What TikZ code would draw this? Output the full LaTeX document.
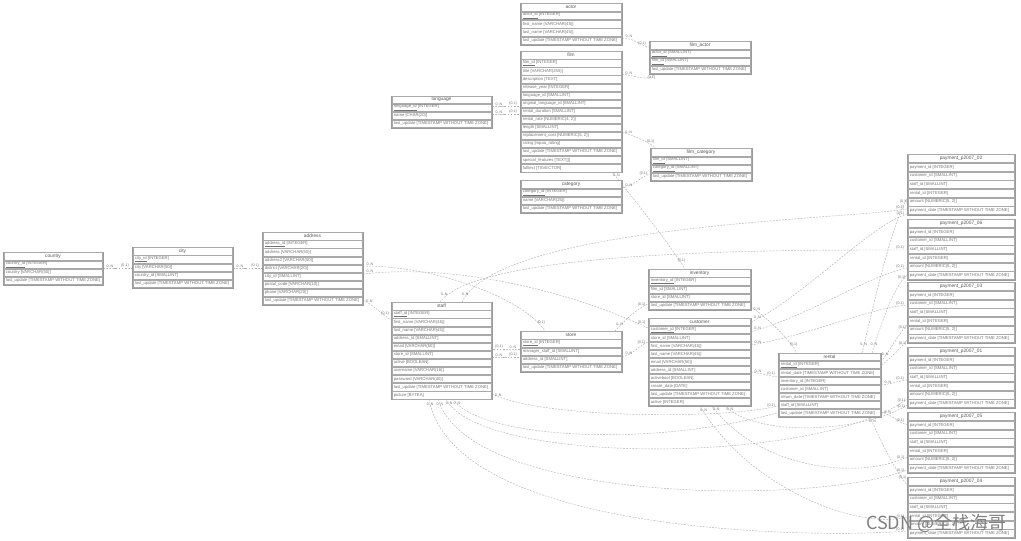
\documentclass[tikz,border=0pt]{standalone}
\usepackage{fontspec}
\setmainfont{Liberation Sans}
\newfontfamily\cjk{Noto Sans CJK SC}
\usetikzlibrary{calc}
\pgfdeclarelayer{back}
\pgfdeclarelayer{edges}
\pgfsetlayers{back,edges,main}
\definecolor{boxc}{HTML}{9A9A9A}
\definecolor{txtc}{HTML}{737373}
\definecolor{relc}{HTML}{B0B0B0}
\tikzset{
  erbox/.style={draw=boxc, line width=0.45pt, inner sep=0pt, fill=white},
  ercell/.style={draw=boxc!85, line width=0.3pt, inner sep=0pt},
  ertxt/.style={font=\fontsize{4.2}{4.6}\selectfont, text=txtc, inner sep=0pt, anchor=west},
  ertitle/.style={font=\fontsize{4.8}{5}\selectfont, text=txtc!75!black, inner sep=0pt},
  rel/.style={draw=relc, line width=0.45pt, dash pattern=on 1.8pt off 1.3pt},
  lab/.style={font=\fontsize{3.6}{4}\selectfont, text=txtc, inner sep=0.4pt, anchor=south},
}
\newcommand\pk[1]{\underline{#1}}
% #1 id #2 x #3 y #4 w #5 h #6 nrows #7 title #8 rows
\newcommand\ertable[8]{%
  \pgfmathsetmacro\ertH{(#6+1)*#5}%
  \node[erbox, minimum width=#4, minimum height=\ertH, anchor=north west] (#1) at (#2,#3) {};
  \node[ercell, minimum width=#4-2.4, minimum height=#5-0.8] (#1-r0) at ($(#2,#3)+(#4/2,#5/2)$) {};
  \node[ertitle] (#1-tt) at (#1-r0) {#7};
  \foreach \ertrow [count=\i] in {#8} {
    \node[ercell, minimum width=#4-2.4, minimum height=#5-0.8] (#1-r\i) at ($(#2,#3)+(#4/2,{(\i+0.5)*#5})$) {};
    \node[ertxt] (#1-t\i) at ($(#1-r\i.west)+(1.6,0)$) {\ertrow};
  }
}
\newcommand\paytable[3]{%
  \ertable{#1}{907}{#2}{108}{8.7}{6}{#3}{{payment\_id [INTEGER]},{customer\_id [SMALLINT]},{staff\_id [SMALLINT]},{rental\_id [INTEGER]},{amount [NUMERIC(5, 2)]},{payment\_date [TIMESTAMP WITHOUT TIME ZONE]}}
}
% #1 id #2 start #3 c1 #4 c2 #5 end
\newcommand\rel[5]{%
  \coordinate (#1s) at #2;
  \coordinate (#1e) at #5;
  \draw[rel] (#1s) .. controls #3 and #4 .. (#1e);
  \node[lab] (#1a) at ($(#1s)!7pt!#3$) {0..N};
  \node[lab] (#1b) at ($(#1e)!7pt!#4$) {\{0,1\}};
}
\newcommand\TS{[TIMESTAMP WITHOUT TIME ZONE]}
\begin{document}
\begin{tikzpicture}[x=1pt,y=-1pt]
\begin{pgfonlayer}{back}
\useasboundingbox[fill=white] (0,0) rectangle (1021,541);
\end{pgfonlayer}

% ---------------- tables
\ertable{actor}{520}{3}{102}{8.4}{4}{actor}{{\pk{actor\_id} [INTEGER]},{first\_name [VARCHAR(45)]},{last\_name [VARCHAR(45)]},{last\_update \TS}}
\ertable{filmactor}{649}{41}{102}{8.25}{3}{film\_actor}{{\pk{actor\_id} [SMALLINT]},{\pk{film\_id} [SMALLINT]},{last\_update \TS}}
\ertable{film}{520}{51}{102}{8.07}{14}{film}{{\pk{film\_id} [INTEGER]},{title [VARCHAR(255)]},{description [TEXT]},{release\_year [INTEGER]},{language\_id [SMALLINT]},{original\_language\_id [SMALLINT]},{rental\_duration [SMALLINT]},{rental\_rate [NUMERIC(4, 2)]},{length [SMALLINT]},{replacement\_cost [NUMERIC(5, 2)]},{rating [mpaa\_rating]},{last\_update \TS},{special\_features [TEXT[]]},{fulltext [TSVECTOR]}}
\ertable{language}{391}{95.5}{101}{8}{3}{language}{{\pk{language\_id} [INTEGER]},{name [CHAR(20)]},{last\_update \TS}}
\ertable{filmcat}{650}{148}{102}{8.25}{3}{film\_category}{{\pk{film\_id} [SMALLINT]},{\pk{category\_id} [SMALLINT]},{last\_update \TS}}
\ertable{category}{520}{180}{102}{8.25}{3}{category}{{\pk{category\_id} [INTEGER]},{name [VARCHAR(25)]},{last\_update \TS}}
\ertable{country}{3}{252}{100}{8.25}{3}{country}{{\pk{country\_id} [INTEGER]},{country [VARCHAR(50)]},{last\_update \TS}}
\ertable{city}{132}{247}{101}{8.2}{4}{city}{{\pk{city\_id} [INTEGER]},{city [VARCHAR(50)]},{country\_id [SMALLINT]},{last\_update \TS}}
\ertable{address}{262}{232}{101}{8.1}{8}{address}{{\pk{address\_id} [INTEGER]},{address [VARCHAR(50)]},{address2 [VARCHAR(50)]},{district [VARCHAR(20)]},{city\_id [SMALLINT]},{postal\_code [VARCHAR(10)]},{phone [VARCHAR(20)]},{last\_update \TS}}
\ertable{staff}{391}{302}{101}{8.1}{11}{staff}{{\pk{staff\_id} [INTEGER]},{first\_name [VARCHAR(45)]},{last\_name [VARCHAR(45)]},{address\_id [SMALLINT]},{email [VARCHAR(50)]},{store\_id [SMALLINT]},{active [BOOLEAN]},{username [VARCHAR(16)]},{password [VARCHAR(40)]},{last\_update \TS},{picture [BYTEA]}}
\ertable{store}{520}{331}{102}{8.2}{4}{store}{{\pk{store\_id} [INTEGER]},{manager\_staff\_id [SMALLINT]},{address\_id [SMALLINT]},{last\_update \TS}}
\ertable{inventory}{648}{269}{103}{8.2}{4}{inventory}{{\pk{inventory\_id} [INTEGER]},{film\_id [SMALLINT]},{store\_id [SMALLINT]},{last\_update \TS}}
\ertable{customer}{648}{318}{103}{8}{10}{customer}{{\pk{customer\_id} [INTEGER]},{store\_id [SMALLINT]},{first\_name [VARCHAR(45)]},{last\_name [VARCHAR(45)]},{email [VARCHAR(50)]},{address\_id [SMALLINT]},{activebool [BOOLEAN]},{create\_date [DATE]},{last\_update \TS},{active [INTEGER]}}
\ertable{rental}{778}{353}{103}{8}{7}{rental}{{\pk{rental\_id} [INTEGER]},{rental\_date \TS},{inventory\_id [INTEGER]},{customer\_id [SMALLINT]},{return\_date \TS},{staff\_id [SMALLINT]},{last\_update \TS}}
\paytable{p02}{154}{payment\_p2007\_02}
\paytable{p06}{219}{payment\_p2007\_06}
\paytable{p03}{282}{payment\_p2007\_03}
\paytable{p01}{347}{payment\_p2007\_01}
\paytable{p05}{412}{payment\_p2007\_05}
\paytable{p04}{477}{payment\_p2007\_04}

% ---------------- relations (on a layer under the tables)
\begin{pgfonlayer}{edges}
\rel{e1}{($(actor.north west)+(102,35)$)}{(635,38)}{(640,46)}{($(filmactor.north west)+(0,6)$)}
\rel{e2}{($(film.north west)+(102,23)$)}{(636,76)}{(650,82)}{($(filmactor.north west)+(6,33)$)}
\rel{e3}{($(language.north west)+(101,10.5)$)}{(503,106)}{(510,106)}{($(film.north west)+(0,55)$)}
\rel{e4}{($(language.north west)+(101,18.5)$)}{(503,114)}{(510,114)}{($(film.north west)+(0,63)$)}
\rel{e5}{($(film.north west)+(102,81)$)}{(635,136)}{(650,143)}{($(filmcat.north west)+(6,0)$)}
\rel{e6}{($(category.north west)+(102,8)$)}{(634,186)}{(640,177)}{($(filmcat.north west)+(0,26)$)}
\rel{e7}{($(country.north west)+(100,16)$)}{(113,268)}{(122,268)}{($(city.north west)+(0,21)$)}
\rel{e8}{($(city.north west)+(101,21)$)}{(243,268)}{(252,268)}{($(address.north west)+(0,36)$)}
\rel{e9}{($(address.north west)+(101,68)$)}{(373,305)}{(382,314)}{($(staff.north west)+(0,18)$)}
\rel{e10}{($(address.north west)+(101,34)$)}{(440,266)}{(525,300)}{($(store.north west)+(25,0)$)}
\rel{e11}{($(address.north west)+(101,42)$)}{(470,262)}{(590,300)}{($(customer.north west)+(0,10)$)}
\rel{e12}{($(store.north west)+(0,18)$)}{(510,349)}{(502,349)}{($(staff.north west)+(101,47)$)}
\rel{e13}{($(staff.north west)+(101,55)$)}{(502,357)}{(510,357)}{($(store.north west)+(0,26)$)}
\rel{e14}{($(store.north west)+(95,0)$)}{(625,320)}{(638,308)}{($(inventory.north west)+(0,35)$)}
\rel{e15}{($(store.north west)+(102,26)$)}{(632,355)}{(640,345)}{($(customer.north west)+(0,24)$)}
\rel{e16}{($(film.north west)+(92,121)$)}{(635,200)}{(670,245)}{($(inventory.north west)+(37,0)$)}
\rel{e17}{($(inventory.north west)+(103,38)$)}{(768,318)}{(790,340)}{($(rental.north west)+(19,0)$)}
\rel{e18}{($(customer.north west)+(103,54)$)}{(760,373)}{(770,376)}{($(rental.north west)+(0,24)$)}
\rel{e19}{($(staff.north west)+(101,92)$)}{(540,418)}{(720,420)}{($(rental.north west)+(0,53)$)}
% staff -> payments
\rel{s2}{($(staff.north west)+(71,0)$)}{(500,225)}{(840,220)}{($(p02.north west)+(0,55)$)}
\rel{s6}{($(staff.north west)+(49,0)$)}{(480,248)}{(800,250)}{($(p06.north west)+(0,31)$)}
\rel{s3}{($(staff.north west)+(62,97)$)}{(490,455)}{(820,452)}{($(p03.north west)+(0,58)$)}
\rel{s1}{($(staff.north west)+(55,97)$)}{(480,466)}{(820,465)}{($(p01.north west)+(0,52)$)}
\rel{s5}{($(staff.north west)+(47,97)$)}{(470,505)}{(820,505)}{($(p05.north west)+(0,58)$)}
\rel{s4}{($(staff.north west)+(38,97)$)}{(455,538)}{(830,538)}{($(p04.north west)+(0,54)$)}
% customer -> payments
\rel{c2}{($(customer.north west)+(103,4)$)}{(800,300)}{(870,225)}{($(p02.north west)+(0,60)$)}
\rel{c6}{($(customer.north west)+(103,14)$)}{(810,315)}{(870,275)}{($(p06.north west)+(0,49)$)}
\rel{c3}{($(customer.north west)+(103,27)$)}{(810,335)}{(870,308)}{($(p03.north west)+(0,23)$)}
\rel{c1}{($(customer.north west)+(77,88)$)}{(760,440)}{(870,430)}{($(p01.north west)+(0,58)$)}
\rel{c5}{($(customer.north west)+(64,88)$)}{(760,470)}{(860,480)}{($(p05.north west)+(0,45)$)}
\rel{c4}{($(customer.north west)+(52,88)$)}{(750,490)}{(860,530)}{($(p04.north west)+(0,40)$)}
% rental -> payments
\rel{r2}{($(rental.north west)+(84,0)$)}{(875,300)}{(890,230)}{($(p02.north west)+(0,44)$)}
\rel{r6}{($(rental.north west)+(94,0)$)}{(882,320)}{(895,285)}{($(p06.north west)+(0,56)$)}
\rel{r3}{($(rental.north west)+(103,9)$)}{(890,350)}{(898,335)}{($(p03.north west)+(0,43)$)}
\rel{r1}{($(rental.north west)+(103,32)$)}{(892,384)}{(898,381)}{($(p01.north west)+(0,33)$)}
\rel{r5}{($(rental.north west)+(103,59)$)}{(892,415)}{(898,422)}{($(p05.north west)+(0,13)$)}
\rel{r4}{($(rental.north west)+(92,64)$)}{(880,440)}{(895,470)}{($(p04.north west)+(0,8)$)}
\end{pgfonlayer}

% watermark
\node[anchor=west, inner sep=0pt, text=black!50, font=\cjk\fontsize{18}{18}\selectfont] (wm) at (866,523) {CSDN @全栈海哥};
\end{tikzpicture}
\end{document}
